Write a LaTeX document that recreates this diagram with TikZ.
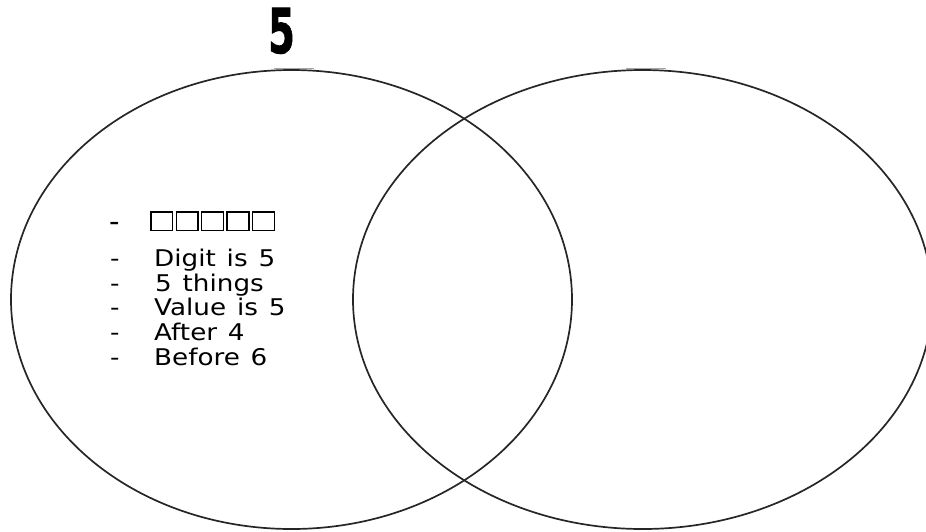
\documentclass[tikz,border=0pt]{standalone}
\usepackage{fontspec}
\setmainfont{DejaVu Sans}
\newfontfamily\listfont[FakeStretch=1.14,WordSpace=1.3]{DejaVu Sans}
\newfontfamily\headfont[FakeBold=1.5]{DejaVu Sans Bold}
% an empty glyph box, as a font draws a character it lacks
\newcommand\tofubox{{\fboxrule=1.3pt\fboxsep=0pt\fbox{\rule{0pt}{17pt}\hspace{20.5pt}}}\hspace{2.3pt}}
\tikzset{
  ring/.style={draw=black!85, line width=1.7pt},
  glint/.style={draw=black!35, line width=1.8pt},
  item/.style={anchor=base west, inner sep=0pt, font=\listfont\fontsize{23}{27}\selectfont},
  bullet/.style={item},
  heading/.style={anchor=base, inner sep=0pt}
}
\begin{document}
\begin{tikzpicture}[x=1pt,y=-1pt]
  \useasboundingbox (0,0) rectangle (926,531);
  \clip (0,0) rectangle (926,531);

  % the two sets
  \draw[ring] (291.5,299.5) ellipse [x radius=280.5, y radius=229.5];
  \draw[ring] (642.6,299.5) ellipse [x radius=289.6, y radius=229.5];
  \draw[glint] (274,68.4) -- (314,68.4);
  \draw[glint] (626,68.4) -- (666,68.4);

  % heading
  \node[heading] (title) at (281.5,53) {\scalebox{0.62}[1]{\headfont\fontsize{62}{62}\selectfont 5}};

  % list in the left set
  \node[bullet, font=\setmainfont{DejaVu Sans}\fontsize{29}{32}\selectfont] (d0) at (109,231) {-};
  \node[item] (t0) at (150,229.5) {\tofubox\tofubox\tofubox\tofubox\tofubox};
  \node[bullet] (d1) at (110,266) {-};
  \node[item] (t1) at (154,266) {Digit is 5};
  \node[bullet] (d2) at (110,291) {-};
  \node[item] (t2) at (155,291) {5 things};
  \node[bullet] (d3) at (110,315) {-};
  \node[item] (t3) at (154,315) {Value is 5};
  \node[bullet] (d4) at (110,340) {-};
  \node[item] (t4) at (154,340) {After 4};
  \node[bullet] (d5) at (110,365) {-};
  \node[item] (t5) at (154,365) {Before 6};
\end{tikzpicture}
\end{document}
